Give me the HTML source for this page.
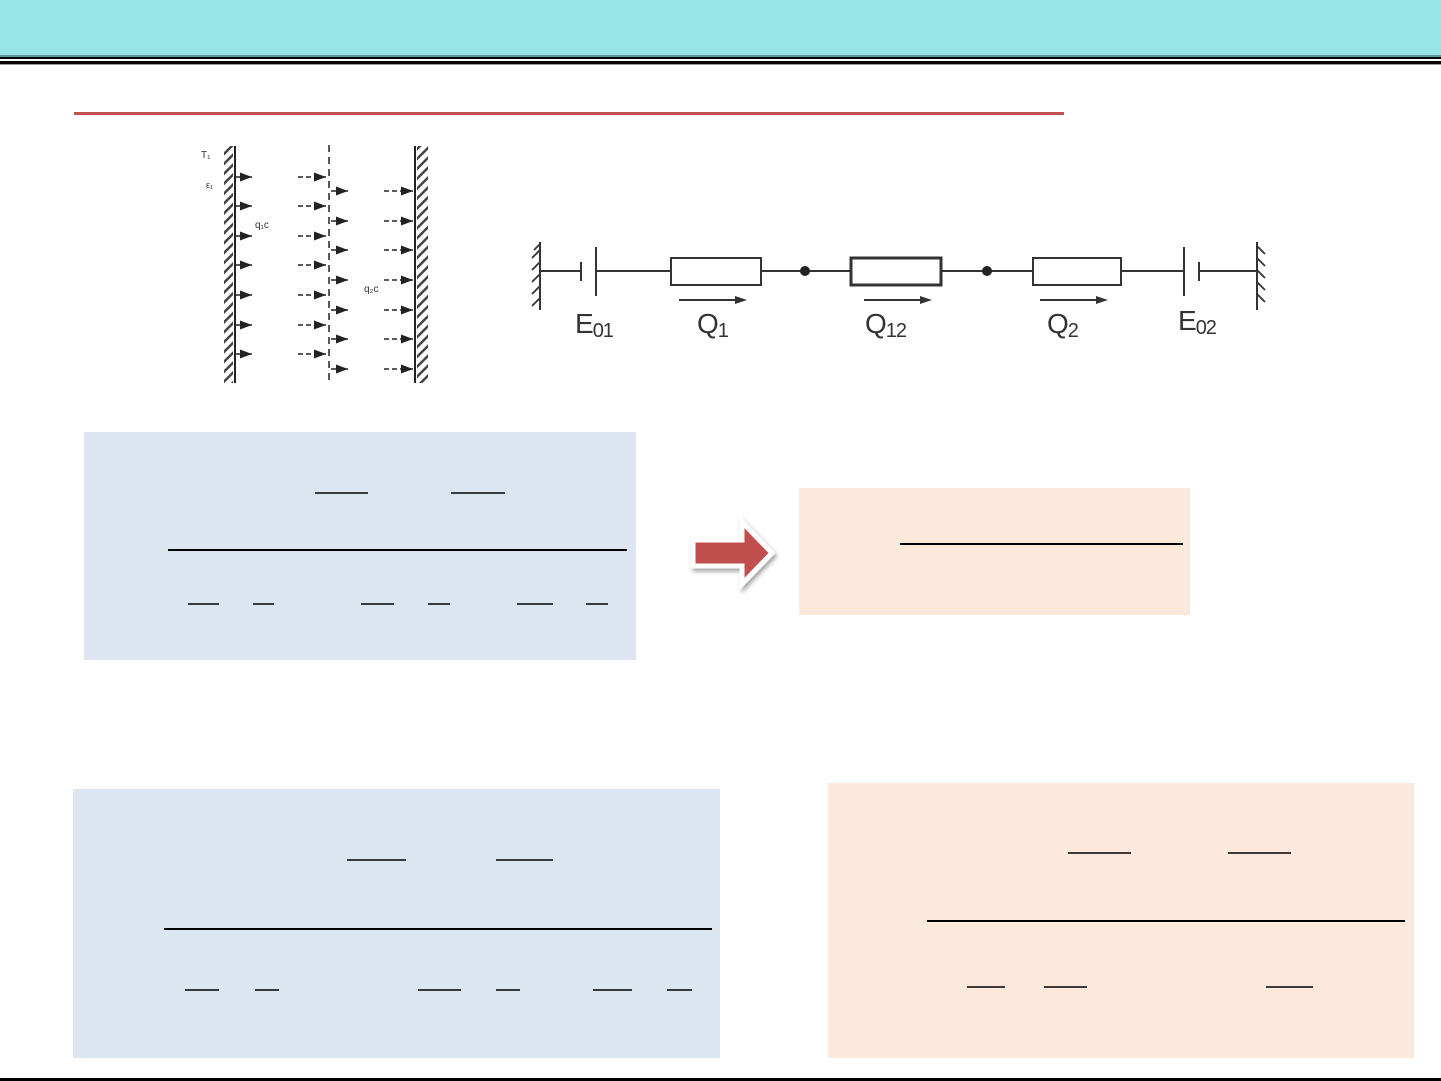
<!DOCTYPE html>
<html><head><meta charset="utf-8"><style>
html,body{margin:0;padding:0;background:#fff;width:1441px;height:1081px;overflow:hidden}
svg{display:block;font-family:"Liberation Sans",sans-serif}
</style></head><body>
<svg width="1441" height="1081" viewBox="0 0 1441 1081" xmlns="http://www.w3.org/2000/svg">
<defs>
<pattern id="h" width="7" height="7" patternUnits="userSpaceOnUse" patternTransform="rotate(-45)">
<rect width="7" height="7" fill="#fff"/><rect width="7" height="2.5" fill="#444"/></pattern>
<marker id="a" markerWidth="8" markerHeight="6" refX="8" refY="3" orient="auto"><path d="M0,0L8,3L0,6z" fill="#222"/></marker>
<filter id="s" x="-20%" y="-20%" width="150%" height="150%"><feDropShadow dx="2" dy="3" stdDeviation="2" flood-color="#000" flood-opacity="0.35"/></filter>
</defs>
<!-- header -->
<rect x="0" y="0" width="1441" height="56" fill="#98e5e8"/>
<rect x="0" y="55" width="1441" height="2" fill="#5a9a9a"/>
<rect x="0" y="57" width="1441" height="2" fill="#000"/>
<rect x="0" y="61" width="1441" height="3" fill="#000"/>
<rect x="0" y="64" width="1441" height="1" fill="#999"/>
<!-- red rule -->
<rect x="74" y="112" width="990" height="3" fill="#c0504d"/>

<!-- left diagram -->
<rect x="224" y="146" width="9" height="237" fill="url(#h)"/>
<line x1="235" y1="146" x2="235" y2="383" stroke="#222" stroke-width="2"/>
<rect x="417" y="146" width="11" height="237" fill="url(#h)"/>
<line x1="415" y1="146" x2="415" y2="383" stroke="#222" stroke-width="2"/>
<line x1="329" y1="145" x2="329" y2="383" stroke="#222" stroke-width="1.5" stroke-dasharray="7,5"/>
<g stroke="#222" stroke-width="1.5">
<line x1="236" y1="177" x2="252" y2="177" marker-end="url(#a)"/>
<line x1="236" y1="206" x2="252" y2="206" marker-end="url(#a)"/>
<line x1="236" y1="236" x2="252" y2="236" marker-end="url(#a)"/>
<line x1="236" y1="265" x2="252" y2="265" marker-end="url(#a)"/>
<line x1="236" y1="295" x2="252" y2="295" marker-end="url(#a)"/>
<line x1="236" y1="325" x2="252" y2="325" marker-end="url(#a)"/>
<line x1="236" y1="354" x2="252" y2="354" marker-end="url(#a)"/>
</g>
<g stroke="#222" stroke-width="1.5" stroke-dasharray="5,3">
<line x1="298" y1="177" x2="326" y2="177" marker-end="url(#a)"/>
<line x1="298" y1="206" x2="326" y2="206" marker-end="url(#a)"/>
<line x1="298" y1="236" x2="326" y2="236" marker-end="url(#a)"/>
<line x1="298" y1="265" x2="326" y2="265" marker-end="url(#a)"/>
<line x1="298" y1="295" x2="326" y2="295" marker-end="url(#a)"/>
<line x1="298" y1="325" x2="326" y2="325" marker-end="url(#a)"/>
<line x1="298" y1="354" x2="326" y2="354" marker-end="url(#a)"/>
<line x1="384" y1="191" x2="413" y2="191" marker-end="url(#a)"/>
<line x1="384" y1="221" x2="413" y2="221" marker-end="url(#a)"/>
<line x1="384" y1="250" x2="413" y2="250" marker-end="url(#a)"/>
<line x1="384" y1="280" x2="413" y2="280" marker-end="url(#a)"/>
<line x1="384" y1="310" x2="413" y2="310" marker-end="url(#a)"/>
<line x1="384" y1="339" x2="413" y2="339" marker-end="url(#a)"/>
<line x1="384" y1="369" x2="413" y2="369" marker-end="url(#a)"/>
</g>
<g stroke="#222" stroke-width="1.5">
<line x1="331" y1="191" x2="348" y2="191" marker-end="url(#a)"/>
<line x1="331" y1="221" x2="348" y2="221" marker-end="url(#a)"/>
<line x1="331" y1="250" x2="348" y2="250" marker-end="url(#a)"/>
<line x1="331" y1="280" x2="348" y2="280" marker-end="url(#a)"/>
<line x1="331" y1="310" x2="348" y2="310" marker-end="url(#a)"/>
<line x1="331" y1="339" x2="348" y2="339" marker-end="url(#a)"/>
<line x1="331" y1="369" x2="348" y2="369" marker-end="url(#a)"/>
</g>
<text x="201" y="158" font-size="10" fill="#333">T₁</text>
<text x="206" y="188" font-size="9" fill="#333">ε₁</text>
<text x="255" y="228" font-size="10" fill="#333">q₁c</text>
<text x="364" y="292" font-size="10" fill="#333">q₂c</text>

<!-- circuit -->
<g stroke="#333" stroke-width="2" fill="none">
<line x1="540" y1="242" x2="540" y2="310"/>
<path d="M540,250l-8,8M540,262l-8,8M540,274l-8,8M540,286l-8,8M540,298l-8,8M540,244l-6,6" stroke-width="1.8"/>
<line x1="540" y1="271" x2="581" y2="271"/>
<line x1="581" y1="262" x2="581" y2="281"/>
<line x1="596" y1="247" x2="596" y2="296"/>
<line x1="596" y1="271" x2="671" y2="271"/>
<rect x="671" y="258" width="90" height="27"/>
<line x1="761" y1="271" x2="851" y2="271"/>
<rect x="851" y="258" width="90" height="27" stroke-width="3"/>
<line x1="941" y1="271" x2="1033" y2="271"/>
<rect x="1033" y="258" width="88" height="27"/>
<line x1="1121" y1="271" x2="1184" y2="271"/>
<line x1="1184" y1="247" x2="1184" y2="296"/>
<line x1="1199" y1="262" x2="1199" y2="281"/>
<line x1="1199" y1="271" x2="1257" y2="271"/>
<line x1="1257" y1="242" x2="1257" y2="310"/>
<path d="M1257,246l8,8M1257,258l8,8M1257,270l8,8M1257,282l8,8M1257,294l8,8" stroke-width="1.8"/>
</g>
<circle cx="805" cy="271" r="5" fill="#222"/>
<circle cx="987" cy="271" r="5" fill="#222"/>
<g stroke="#333" stroke-width="2">
<line x1="679" y1="300" x2="737" y2="300"/><line x1="864" y1="300" x2="922" y2="300"/><line x1="1040" y1="300" x2="1098" y2="300"/>
</g>
<g fill="#333"><path d="M747,300l-12,-4v8z"/><path d="M932,300l-12,-4v8z"/><path d="M1108,300l-12,-4v8z"/></g>
<g font-size="28" fill="#333" letter-spacing="-1">
<text x="575" y="333">E<tspan font-size="20" dy="4">01</tspan></text>
<text x="697" y="333">Q<tspan font-size="20" dy="4">1</tspan></text>
<text x="865" y="333">Q<tspan font-size="20" dy="4">12</tspan></text>
<text x="1047" y="333">Q<tspan font-size="20" dy="4">2</tspan></text>
<text x="1178" y="330">E<tspan font-size="20" dy="4">02</tspan></text>
</g>

<!-- boxes -->
<rect x="84" y="432" width="552" height="228" fill="#dce6f1"/>
<g stroke="#000">
<line x1="315" y1="493" x2="368" y2="493" stroke-width="1.5"/>
<line x1="451" y1="493" x2="505" y2="493" stroke-width="1.5"/>
<line x1="168" y1="550" x2="627" y2="550" stroke-width="2"/>
<line x1="188" y1="604" x2="219" y2="604" stroke-width="1.5"/>
<line x1="253" y1="604" x2="274" y2="604" stroke-width="1.5"/>
<line x1="361" y1="604" x2="394" y2="604" stroke-width="1.5"/>
<line x1="428" y1="604" x2="450" y2="604" stroke-width="1.5"/>
<line x1="517" y1="604" x2="553" y2="604" stroke-width="1.5"/>
<line x1="586" y1="604" x2="608" y2="604" stroke-width="1.5"/>
</g>

<path d="M693,540H742V522L772,553L742,584V566H693Z" fill="#c0504d" stroke="#fff" stroke-width="5" stroke-linejoin="miter" filter="url(#s)"/>

<rect x="799" y="488" width="391" height="127" fill="#fce9db"/>
<line x1="900" y1="544" x2="1183" y2="544" stroke="#000" stroke-width="2"/>

<rect x="73" y="789" width="647" height="269" fill="#dce6f1"/>
<g stroke="#000">
<line x1="347" y1="860" x2="406" y2="860" stroke-width="1.5"/>
<line x1="496" y1="860" x2="553" y2="860" stroke-width="1.5"/>
<line x1="164" y1="929" x2="712" y2="929" stroke-width="2"/>
<line x1="185" y1="990" x2="219" y2="990" stroke-width="1.5"/>
<line x1="255" y1="990" x2="279" y2="990" stroke-width="1.5"/>
<line x1="418" y1="990" x2="461" y2="990" stroke-width="1.5"/>
<line x1="496" y1="990" x2="520" y2="990" stroke-width="1.5"/>
<line x1="593" y1="990" x2="632" y2="990" stroke-width="1.5"/>
<line x1="667" y1="990" x2="692" y2="990" stroke-width="1.5"/>
</g>

<rect x="828" y="783" width="586" height="275" fill="#fce9db"/>
<g stroke="#000">
<line x1="1068" y1="853" x2="1131" y2="853" stroke-width="1.5"/>
<line x1="1228" y1="853" x2="1291" y2="853" stroke-width="1.5"/>
<line x1="927" y1="921" x2="1405" y2="921" stroke-width="2"/>
<line x1="967" y1="987" x2="1005" y2="987" stroke-width="1.5"/>
<line x1="1044" y1="987" x2="1087" y2="987" stroke-width="1.5"/>
<line x1="1266" y1="987" x2="1313" y2="987" stroke-width="1.5"/>
</g>

<rect x="0" y="1078" width="1441" height="3" fill="#000"/>
</svg>
</body></html>
